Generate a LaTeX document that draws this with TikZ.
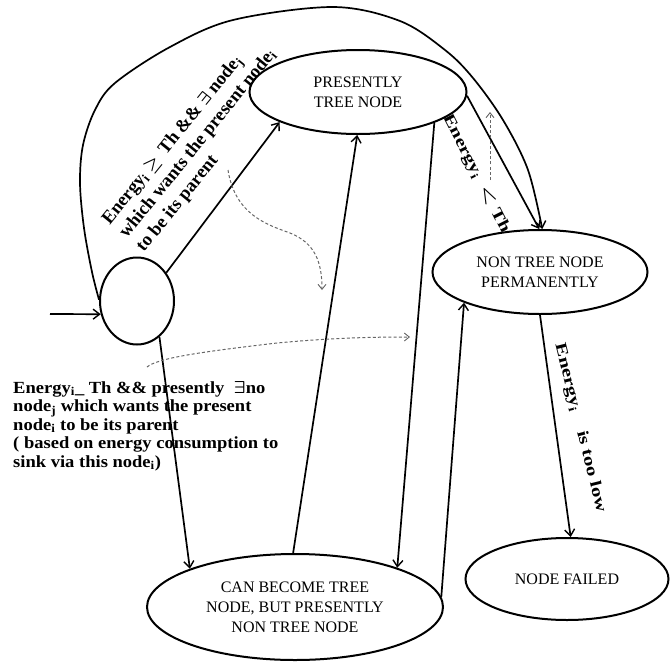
\documentclass[tikz,border=0pt]{standalone}
\usepackage{fontspec}
\setmainfont{Liberation Serif}
\usetikzlibrary{arrows.meta,shapes.geometric}
\begin{document}
\begin{tikzpicture}[x=1pt,y=-1pt,
  state/.style={ellipse,draw,line width=2pt,inner sep=0pt,align=center,font=\fontsize{16}{20}\selectfont},
  arr/.style={line width=1.7pt,-{Straight Barb[length=6.5pt,width=10pt,line width=1.4pt]}},
  dotarr/.style={gray!80!black,line width=1pt,dash pattern=on 3pt off 2.2pt,-{Straight Barb[length=5pt,width=8pt,line width=0.9pt]}},
  lbl/.style={inner sep=0pt,font=\fontsize{17}{18.5}\selectfont\bfseries\boldmath}
]
\useasboundingbox (0,0) rectangle (670,662);

\node[state,minimum width=74pt,minimum height=87pt] (C) at (137,301) {};
\node[state,minimum width=217pt,minimum height=84pt] (P) at (358,92) {PRESENTLY\\TREE NODE};
\node[state,minimum width=215pt,minimum height=84pt] (N) at (540,272) {NON TREE NODE\\PERMANENTLY};
\node[state,minimum width=203pt,minimum height=82pt] (F) at (567,579) {NODE FAILED};
\node[state,minimum width=296pt,minimum height=106pt] (B) at (295,607) {CAN BECOME TREE\\NODE, BUT PRESENTLY\\NON TREE NODE};

\coordinate (in) at (50,314);
\draw[arr] (in) -- (C.200);
\draw[arr] (C.44) -- (P.201);
\draw[arr] (C.-58) -- (B.160);
\draw[arr] (P.-22) -- (B.21);
\draw[arr] (B.92) -- (P.-91);
\draw[arr] (B.4) -- (N.202);
\draw[arr] (P.-2) -- (N.91);
\draw[arr] (N.-90) -- (F.85);
\draw[arr] plot[smooth,tension=0.55] coordinates {(C.178) (92,272) (84,228) (80,183) (83,145) (95,110) (115,83) (170,47) (233,20) (333,7) (400,21) (445,50) (473,78) (503,120) (528,170) (N.87)};

\coordinate (d1s) at (228,170);
\coordinate (d1e) at (322,290);
\draw[dotarr] (d1s) .. controls (235,215) and (268,225) .. (290,233) .. controls (315,243) and (322,262) .. (d1e);
\coordinate (d2s) at (147,367);
\coordinate (d2e) at (410,337);
\draw[dotarr] (d2s) .. controls (158,358) and (200,352) .. (277,343) .. controls (330,338) and (370,337) .. (d2e);
\coordinate (d3s) at (490,180);
\coordinate (d3e) at (490,112);
\draw[dotarr] (d3s) -- (d3e);

\node[lbl,rotate=51,align=left,font=\fontsize{18.5}{22}\selectfont\bfseries\boldmath] (L1) at (198,144)
  {Energy\textsubscript{i} $\geq$\, Th \&\& $\exists$ node\textsubscript{j}\\which wants the present node\textsubscript{i}\\to be its parent};
\node[lbl,anchor=north west,align=left,xscale=1.09] (L2) at (13,381)
  {Energy\textsubscript{i}\_ Th \&\& presently\ \ $\exists$no\\node\textsubscript{j} which wants the present\\node\textsubscript{i} to be its parent\\( based on energy consumption to\\sink via this node\textsubscript{i})};
\node[lbl,rotate=-63,xscale=1.3,font=\fontsize{16}{18}\selectfont\bfseries\boldmath] (L3) at (476,174)
  {Energy\textsubscript{i}\ \ $<$ Th};
\node[lbl,rotate=-76,xscale=1.3,font=\fontsize{16}{18}\selectfont\bfseries\boldmath] (L4) at (580,428)
  {Energy\textsubscript{i}\quad is too low};
\end{tikzpicture}
\end{document}
